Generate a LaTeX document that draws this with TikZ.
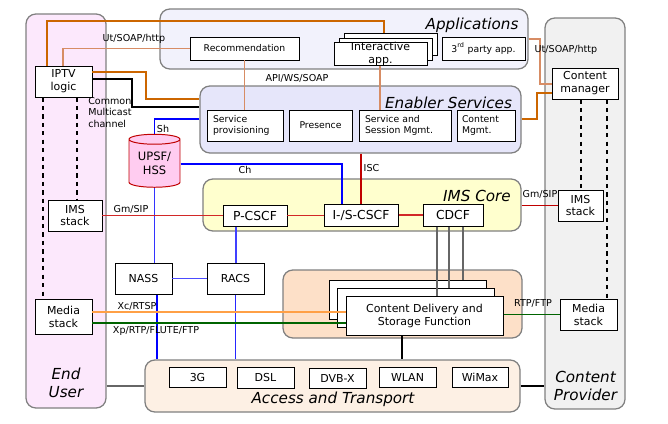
\documentclass[tikz,border=0pt]{standalone}
\usepackage{fontspec}
\setmainfont{DejaVu Sans}[ItalicFont={DejaVu Sans Oblique},BoldFont={DejaVu Sans Bold}]
\usetikzlibrary{shapes.geometric}

\definecolor{eufill}{RGB}{252,232,252}
\definecolor{cpfill}{RGB}{241,241,241}
\definecolor{appfill}{RGB}{242,242,252}
\definecolor{ensfill}{RGB}{230,230,250}
\definecolor{imsfill}{RGB}{255,255,206}
\definecolor{cdsffill}{RGB}{253,224,200}
\definecolor{accfill}{RGB}{253,240,228}
\definecolor{panelgray}{RGB}{128,128,128}
\definecolor{hssfill}{RGB}{255,204,240}
\definecolor{hssdraw}{RGB}{192,0,0}
\definecolor{dorange}{RGB}{204,102,0}
\definecolor{salmon}{RGB}{215,140,100}
\definecolor{sipred}{RGB}{210,40,40}
\definecolor{rtspor}{RGB}{255,160,70}
\definecolor{rtpgreen}{RGB}{0,100,0}

\tikzset{
  sz/.style 2 args={minimum width=#1*0.025cm, minimum height=#2*0.025cm},
  panel/.style={draw=panelgray, line width=0.9pt, rounded corners=7pt, inner sep=0pt},
  box/.style={draw, rectangle, align=center, fill=white, inner sep=0pt, line width=0.7pt,
    font=\fontsize{7.8}{9.2}\selectfont},
  sbox/.style={box, font=\fontsize{6.6}{8}\selectfont},
  cbox/.style={box, font=\fontsize{8.8}{10}\selectfont},
  title/.style={inner sep=0pt, align=center, font=\fontsize{10.8}{12.8}\selectfont\itshape},
  lbl/.style={inner sep=0pt, font=\fontsize{6.8}{8.2}\selectfont},
  link/.style={line width=0.8pt},
}

\begin{document}
\begin{tikzpicture}[x=0.025cm, y=-0.025cm]
\useasboundingbox (0,0) rectangle (668,423);

% panels
\node[panel, fill=eufill, sz={80}{394}] (eu) at (66,211) {};
\node[panel, fill=cpfill, sz={80}{391}] (cp) at (585,213.5) {};
\node[panel, fill=appfill, sz={368}{60}] (apps) at (344,39) {};
\node[panel, fill=ensfill, sz={321}{67}] (ens) at (360.5,119.5) {};
\node[panel, fill=imsfill, sz={318}{52}] (ims) at (362,205) {};
\node[panel, fill=cdsffill, sz={239}{68}] (cdsfp) at (402.5,304) {};
\node[panel, fill=accfill, sz={375}{52}] (acc) at (332.5,386) {};

\node[title] (eut) at (66,383) {End\\User};
\node[title] (cpt) at (585.5,386) {Content\\Provider};
\node[title] (appt) at (472,25) {Applications};
\node[title] (enst) at (448.5,103) {Enabler Services};
\node[title] (imst) at (477,196) {IMS Core};
\node[title] (acct) at (333,399) {Access and Transport};

% end user
\node[box, sz={57}{31}] (iptv) at (63.5,81.5) {IPTV\\logic};
\node[box, sz={54}{31}] (imsl) at (75,215.5) {IMS\\stack};
\node[box, sz={57}{35}] (medl) at (63.5,316.5) {Media\\stack};

% content provider
\node[box, sz={66}{31}] (cman) at (585,83.5) {Content\\manager};
\node[box, sz={45}{31}] (imsr) at (580.5,205.5) {IMS\\stack};
\node[box, sz={57}{31}] (medr) at (588.5,314.5) {Media\\stack};

% applications
\node[sbox, sz={109}{23}] (rec) at (244.5,48.5) {Recommendation};
\node[box, sz={93}{22}] (intc) at (390.5,44) {};
\node[box, sz={93}{22}] (intb) at (385.5,49) {};
\node[box, sz={93}{22}] (inta) at (380.5,54) {Interactive\\app.};
\node[sbox, sz={83}{23}] (third) at (483.5,48.5) {3\textsuperscript{rd} party app.};

% enabler services
\node[sbox, sz={76}{31}, align=left, text width=64*0.025cm] (sprov) at (245,125.5) {Service\\provisioning};
\node[sbox, sz={63}{31}] (pres) at (320.5,125.5) {Presence};
\node[sbox, sz={92}{31}, align=left, text width=80*0.025cm] (ssm) at (405,125.5) {Service and\\Session Mgmt.};
\node[sbox, sz={58}{31}, align=left, text width=48*0.025cm] (cmgmt) at (486,125.5) {Content\\Mgmt.};

% IMS core
\node[cbox, sz={64}{21}] (pcscf) at (255,215.5) {P-CSCF};
\node[cbox, sz={74}{22}] (iscscf) at (361,215) {I-/S-CSCF};
\node[cbox, sz={60}{22}] (cdcf) at (453,215) {CDCF};

\node[cylinder, shape border rotate=90, aspect=0.3, draw=hssdraw, fill=hssfill, line width=0.7pt,
  align=center, inner sep=0pt, minimum height=53*0.025cm, minimum width=51*0.025cm,
  font=\fontsize{8.2}{10}\selectfont] (hss) at (154.5,163.5) {UPSF/\\HSS};

\node[box, sz={57}{31}] (nass) at (143.5,278.5) {NASS};
\node[box, sz={57}{31}] (racs) at (235.5,278.5) {RACS};

% content delivery
\node[box, sz={157}{39}] (cdsfc) at (407.5,299.5) {};
\node[box, sz={157}{39}] (cdsfb) at (415.5,308) {};
\node[box, sz={157}{39}] (cdsfa) at (424.5,315.5) {Content Delivery and\\Storage Function};

% access
\node[box, sz={57}{20}] (g3) at (197.5,377) {3G};
\node[box, sz={57}{21}] (dsl) at (265.5,377.5) {DSL};
\node[box, sz={57}{20}] (dvb) at (337.5,378) {DVB-X};
\node[box, sz={57}{20}] (wlan) at (407.5,377) {WLAN};
\node[box, sz={56}{20}] (wimax) at (480,377) {WiMax};

% connectors
\draw[link, dorange] (iptv.north -| 47,0) |- (384,21) -- (intc.north -| 384,0);
\draw[link, salmon] (iptv.north -| 63,0) |- (rec.west);
\draw[link, salmon] (rec.south) -- (rec.south |- sprov.north);
\draw[link, salmon] (inta.south -| 380,0) -- (ssm.north -| 380,0);
\draw[link, dorange] (iptv.east |- 0,72) -| (146,99) -- (ens.west |- 0,99);
\draw[link] (iptv.east |- 0,79) -| (132,107) -- (ens.west |- 0,107);
\draw[link, blue] (ens.west |- 0,119) -| (hss.north);
\draw[link, blue] (hss.east |- 0,164) -| (iscscf.north -| 342,0);
\draw[link, hssdraw] (ens.south -| 361,0) -- (iscscf.north -| 361,0);
\draw[link, blue!80] (hss.south) -- (nass.north -| hss.south);
\draw[link, blue!70] (nass) -- (racs);
\draw[link, blue!75] (pcscf.south -| 236,0) -- (racs.north -| 236,0);
\draw[link, blue] (nass.south -| 157,0) -- (acc.north -| 157,0);
\draw[link, blue!85] (racs.south) -- (acc.north -| racs.south);
\draw[link, sipred] (imsl.east) -- (pcscf.west |- imsl.east);
\draw[link, sipred] (pcscf.east) -- (iscscf.west |- pcscf.east);
\draw[link, sipred] (iscscf.east) -- (cdcf.west);
\draw[link, hssdraw] (ims.east |- imsr.west) -- (imsr.west);
\draw[link, black!60] (cdcf.south -| 437,0) -- (cdsfa.north -| 437,0);
\draw[link, black!60] (cdcf.south -| 449,0) -- (cdsfb.north -| 449,0);
\draw[link, black!60] (cdcf.south -| 463,0) -- (cdsfc.north -| 463,0);
\draw[link, rtspor] (medl.east |- 0,312) -- (cdsfa.west |- 0,312);
\draw[link, rtpgreen] (medl.east |- 0,323) -- (cdsfa.west |- 0,323);
\draw[link, rtpgreen] (cdsfa.east |- medr.west) -- (medr.west);
\draw[link] (cdsfa.south -| 402,0) -- (acc.north -| 402,0);
\draw[link, black!60] (eu.east |- acc.west) -- (acc.west);
\draw[link] (acc.east) -- (cp.west |- acc.east);
\draw[link, salmon] (apps.east) -| (540,84) -- (cman.west |- 0,84);
\draw[link, dorange] (ens.east |- 0,119) -| (537,93) -- (cman.west |- 0,93);
\draw[link, dashed] (iptv.south -| 43,0) -- (medl.north -| 43,0);
\draw[link, dashed] (iptv.south -| 77,0) -- (imsl.north -| 77,0);
\draw[link, dashed] (cman.south -| 581,0) -- (imsr.north -| 581,0);
\draw[link, dashed] (cman.south -| 607,0) -- (medr.north -| 607,0);

% labels
\node[lbl] (ut1) at (134,39) {Ut/SOAP/http};
\node[lbl] (ut2) at (566,50) {Ut/SOAP/http};
\node[lbl] (api) at (297,78) {API/WS/SOAP};
\node[lbl, align=left, anchor=north west] (cmc) at (88,97) {Common\\Multicast\\channel};
\node[lbl] (sh) at (163,129) {Sh};
\node[lbl] (ch) at (245,170) {Ch};
\node[lbl] (isc) at (371.5,168) {ISC};
\node[lbl] (gm1) at (131,209) {Gm/SIP};
\node[lbl] (gm2) at (540,194) {Gm/SIP};
\node[lbl] (xc) at (137,306) {Xc/RTSP};
\node[lbl] (xp) at (156,331) {Xp/RTP/FLUTE/FTP};
\node[lbl] (rtp) at (533,303) {RTP/FTP};
\end{tikzpicture}
\end{document}
